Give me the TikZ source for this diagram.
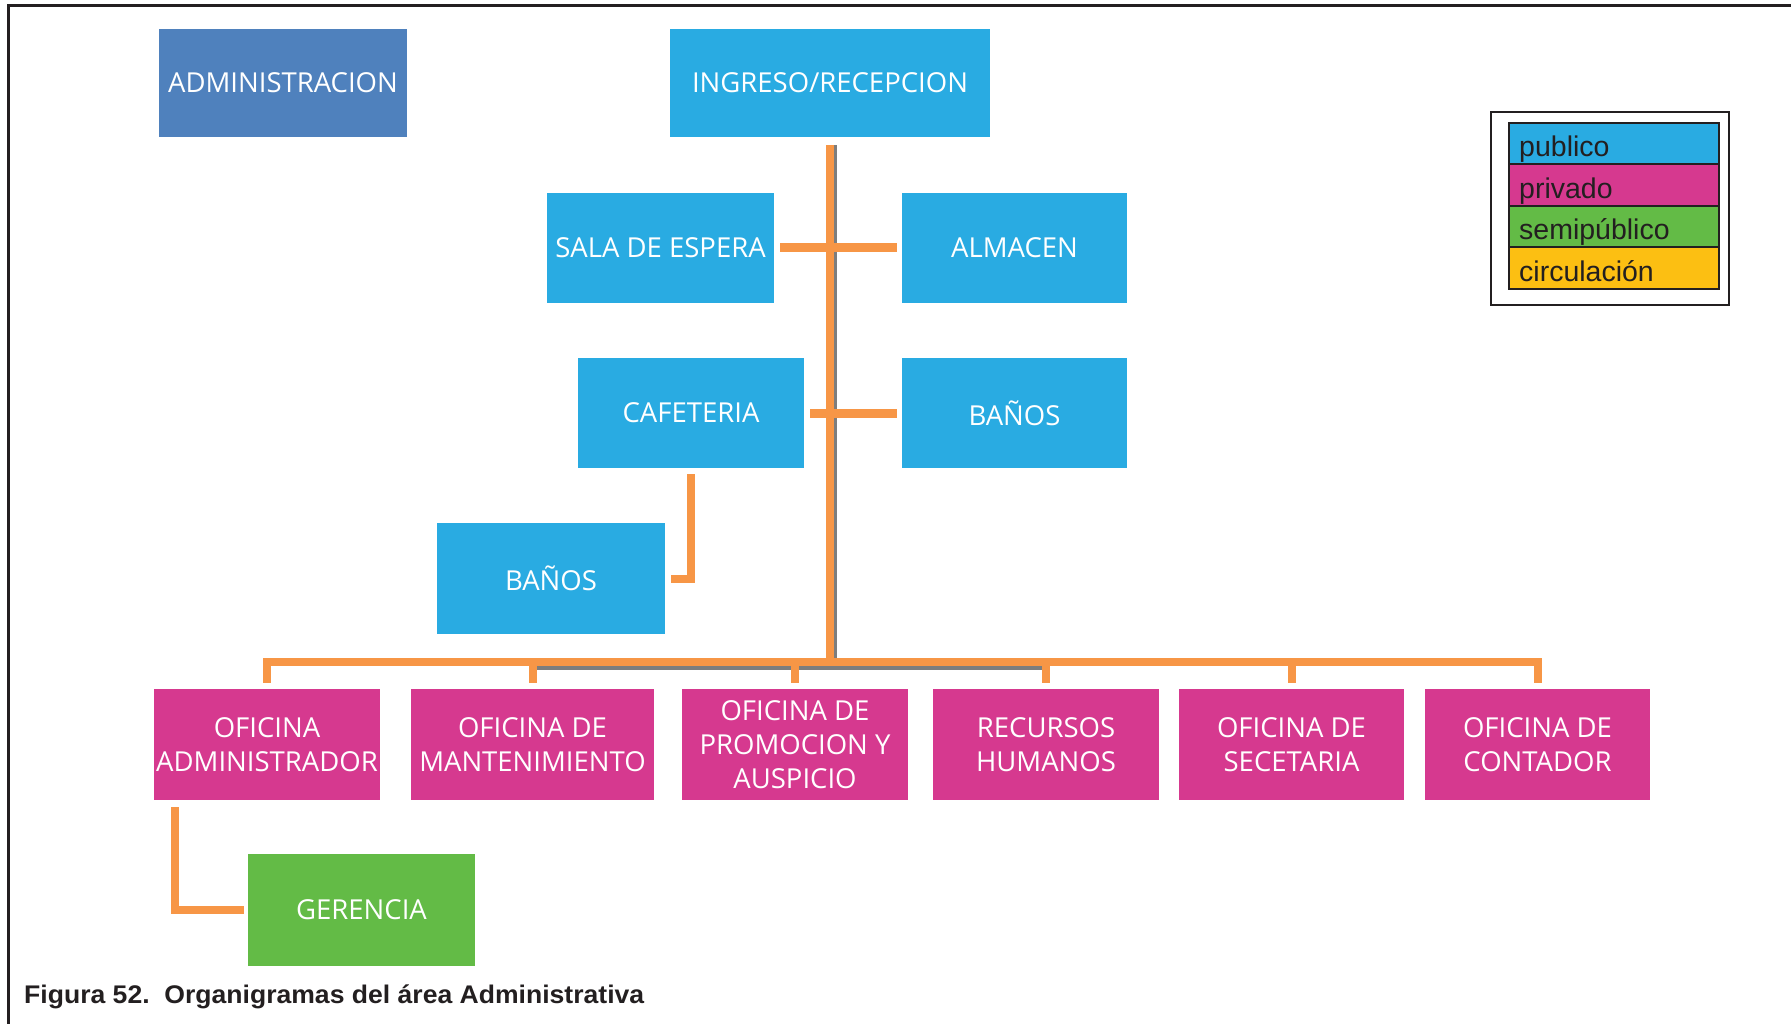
\documentclass[tikz,border=0pt]{standalone}
\usepackage{fontspec}
\usepackage{graphicx}
\setmainfont{Open Sans}
\newfontfamily\legfont{Liberation Sans}
\definecolor{pub}{HTML}{29ABE2}
\definecolor{adm}{HTML}{4F81BD}
\definecolor{priv}{HTML}{D6398F}
\definecolor{semi}{HTML}{63BB46}
\definecolor{circ}{HTML}{FCBF12}
\definecolor{conn}{HTML}{F79646}
\definecolor{ink}{HTML}{231F20}
\tikzset{
  box/.style={fill=#1, draw=none, text=white, align=center, inner sep=0pt,
    font=\fontsize{27.5}{34}\selectfont},
  connline/.style={draw=conn, line width=8pt},
  shad/.style={draw=black!60, line width=7pt, opacity=0.85},
  legrow/.style={draw=ink, line width=2pt, fill=#1},
  legtext/.style={anchor=base west, inner sep=0pt, text=ink, font=\legfont\fontsize{28.5}{30}\selectfont}
}
\begin{document}
\begin{tikzpicture}[x=1pt,y=-1pt]
\useasboundingbox (0,0) rectangle (1791,1024);
% frame
\draw[ink, line width=3pt] (8,1024) -- (8,5.5) -- (1791,5.5);
% nodes
\node[box=adm, minimum width=248pt, minimum height=108pt] (admin) at (283,83) {ADMINISTRACION};
\node[box=pub, minimum width=320pt, minimum height=108pt] (ingreso) at (830,83) {INGRESO/RECEPCION};
\node[box=pub, minimum width=227pt, minimum height=110pt] (sala) at (660.5,248) {SALA DE ESPERA};
\node[box=pub, minimum width=225pt, minimum height=110pt] (almacen) at (1014.5,248) {ALMACEN};
\node[box=pub, minimum width=226pt, minimum height=110pt] (cafe) at (691,413) {CAFETERIA};
\node[box=pub, minimum width=225pt, minimum height=110pt] (banosr) at (1014.5,413) {BAÑOS};
\node[box=pub, minimum width=228pt, minimum height=111pt] (banosl) at (551,578.5) {BAÑOS};
\node[box=priv, minimum width=226pt, minimum height=111pt] (b1) at (267,744.5) {OFICINA\\ADMINISTRADOR};
\node[box=priv, minimum width=243pt, minimum height=111pt] (b2) at (532.5,744.5) {OFICINA DE\\MANTENIMIENTO};
\node[box=priv, minimum width=226pt, minimum height=111pt] (b3) at (795,744.5) {OFICINA DE\\PROMOCION Y\\AUSPICIO};
\node[box=priv, minimum width=226pt, minimum height=111pt] (b4) at (1046,744.5) {RECURSOS\\HUMANOS};
\node[box=priv, minimum width=225pt, minimum height=111pt] (b5) at (1291.5,744.5) {OFICINA DE\\SECETARIA};
\node[box=priv, minimum width=225pt, minimum height=111pt] (b6) at (1537.5,744.5) {OFICINA DE\\CONTADOR};
\node[box=semi, minimum width=227pt, minimum height=112pt] (geren) at (361.5,910) {GERENCIA};
\coordinate (bus) at (0,662);
% shadows
\draw[shad] ([xshift=3pt,yshift=-8pt]ingreso.south) -- ([xshift=3pt]ingreso.south |- bus);
\draw[shad] ([yshift=-4pt]b2.north |- bus) -- ([yshift=-4pt]b4.north |- bus);
% connectors
\draw[connline] ([yshift=-8pt]ingreso.south) -- (ingreso.south |- bus);
\draw[connline] (b1.north |- bus) -- (b6.north |- bus);
\foreach \b in {b1,b2,b3,b4,b5,b6}{
  \draw[connline] ([yshift=4pt]\b.north |- bus) -- ([yshift=6pt]\b.north);
}
\draw[connline, line width=9pt] ([xshift=6pt]sala.east) -- ([xshift=-5pt]almacen.west);
\draw[connline, line width=9pt] ([xshift=6pt]cafe.east) -- ([xshift=-5pt]banosr.west);
\draw[connline] ([yshift=-6pt]cafe.south) |- ([xshift=6pt]banosl.east);
\draw[connline] ([xshift=21pt,yshift=-7pt]b1.south west) |- ([xshift=-4pt]geren.west);
% legend
\node[draw=ink, line width=2.5pt, minimum width=238pt, minimum height=193pt, inner sep=0pt] (legend) at (1610,208.5) {};
\draw[legrow=pub] (1509,123) rectangle (1719,164);
\draw[legrow=priv] (1509,164) rectangle (1719,206);
\draw[legrow=semi] (1509,206) rectangle (1719,247);
\draw[legrow=circ] (1509,247) rectangle (1719,289);
\node[legtext] (l1) at (1519,157) {publico};
\node[legtext] (l2) at (1519,199) {privado};
\node[legtext] (l3) at (1519,240) {semipúblico};
\node[legtext] (l4) at (1519,282) {circulación};
% caption
\node[anchor=base west, inner sep=0pt, text=ink, font=\legfont\bfseries\fontsize{25.5}{28}\selectfont] (cap) at (24,1003)
  {\resizebox{620pt}{\height}{Figura 52.\ \ Organigramas del área Administrativa}};
\end{tikzpicture}
\end{document}
